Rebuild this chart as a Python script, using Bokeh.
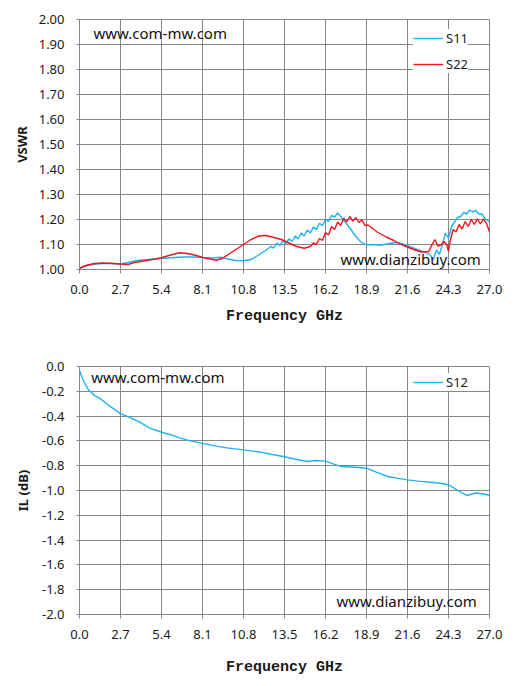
from bokeh.plotting import figure
from bokeh.models import FixedTicker, NumeralTickFormatter, Label, Legend, LegendItem, Range1d
from bokeh.layouts import column
from bokeh.embed import file_html
from bokeh.resources import INLINE

GRID = "#878787"
CYAN = "#1EB4F0"
RED = "#F0141E"
TXT = "#1a1a1a"

freq_ticks = [0.0, 2.7, 5.4, 8.1, 10.8, 13.5, 16.2, 18.9, 21.6, 24.3, 27.0]
vswr_ticks = [1.0, 1.1, 1.2, 1.3, 1.4, 1.5, 1.6, 1.7, 1.8, 1.9, 2.0]
il_ticks = [-2.0, -1.8, -1.6, -1.4, -1.2, -1.0, -0.8, -0.6, -0.4, -0.2, 0.0]

s11_f = [0.0, 0.3, 0.6, 1.0, 1.5, 2.0, 2.7, 3.2, 3.8, 4.5, 5.4, 6.0, 6.8, 7.5, 8.1, 8.8, 9.3, 9.8,
         10.3, 10.8, 11.3, 11.8, 12.2, 12.6, 12.8, 13.0, 13.2, 13.4, 13.6, 13.8, 14.0, 14.2, 14.4,
         14.6, 14.8, 15.0, 15.2, 15.4, 15.6, 15.8, 16.0, 16.2, 16.4, 16.6, 16.8, 17.0, 17.3, 17.6,
         17.9, 18.2, 18.5, 18.9, 19.3, 19.8, 20.3, 20.8, 21.3, 21.8, 22.3, 22.8, 23.1, 23.3, 23.5,
         23.7, 23.9, 24.1, 24.3, 24.5, 24.7, 24.9, 25.1, 25.3, 25.5, 25.7, 25.9, 26.1, 26.3, 26.5,
         26.7, 27.0]
s11_v = [1.005, 1.012, 1.017, 1.021, 1.024, 1.024, 1.022, 1.028, 1.036, 1.040, 1.044, 1.047, 1.050,
         1.050, 1.048, 1.046, 1.049, 1.042, 1.036, 1.035, 1.040, 1.058, 1.074, 1.092, 1.086, 1.106,
         1.096, 1.115, 1.104, 1.123, 1.112, 1.134, 1.122, 1.146, 1.134, 1.158, 1.146, 1.170, 1.159,
         1.185, 1.175, 1.200, 1.192, 1.216, 1.210, 1.226, 1.205, 1.182, 1.158, 1.132, 1.112, 1.098,
         1.100, 1.097, 1.103, 1.108, 1.102, 1.090, 1.079, 1.068, 1.058, 1.038, 1.078, 1.060, 1.100,
         1.145, 1.125, 1.172, 1.190, 1.208, 1.212, 1.228, 1.222, 1.238, 1.230, 1.236, 1.222, 1.222,
         1.204, 1.190]

s22_f = [0.0, 0.3, 0.6, 1.0, 1.5, 2.0, 2.7, 3.2, 3.6, 4.2, 5.0, 5.4, 6.0, 6.6, 7.2, 7.7, 8.1, 8.6,
         9.0, 9.4, 9.8, 10.3, 10.8, 11.3, 11.8, 12.3, 12.8, 13.3, 13.8, 14.3, 14.8, 15.2, 15.4, 15.6,
         15.8, 16.0, 16.2, 16.4, 16.6, 16.8, 17.0, 17.2, 17.4, 17.6, 17.8, 18.0, 18.2, 18.4, 18.6,
         18.8, 19.0, 19.6, 20.2, 20.7, 21.2, 21.6, 22.0, 22.5, 23.0, 23.2, 23.4, 23.6, 23.8, 24.0,
         24.2, 24.3, 24.4, 24.6, 24.8, 25.0, 25.2, 25.4, 25.6, 25.8, 26.0, 26.2, 26.4, 26.6, 26.8, 27.0]
s22_v = [1.005, 1.013, 1.019, 1.024, 1.026, 1.025, 1.022, 1.020, 1.028, 1.034, 1.042, 1.047, 1.058,
         1.067, 1.063, 1.056, 1.048, 1.042, 1.037, 1.044, 1.060, 1.080, 1.100, 1.120, 1.134, 1.136,
         1.128, 1.120, 1.106, 1.092, 1.085, 1.092, 1.106, 1.100, 1.124, 1.116, 1.148, 1.138, 1.172,
         1.160, 1.190, 1.176, 1.205, 1.190, 1.212, 1.194, 1.208, 1.188, 1.198, 1.176, 1.178, 1.150,
         1.130, 1.116, 1.100, 1.090, 1.080, 1.070, 1.072, 1.098, 1.120, 1.094, 1.098, 1.112, 1.098,
         1.072, 1.112, 1.160, 1.150, 1.180, 1.162, 1.192, 1.172, 1.200, 1.180, 1.203, 1.182, 1.202,
         1.185, 1.150]

s12_f = [0.0, 0.15, 0.3, 0.6, 1.0, 1.4, 2.0, 2.7, 3.3, 4.0, 4.6, 5.4, 6.0, 6.6, 7.3, 8.1, 9.0, 9.7,
         10.8, 11.9, 12.7, 13.5, 14.3, 15.0, 15.6, 16.2, 16.8, 17.2, 18.2, 18.9, 19.5, 20.3, 20.9,
         21.6, 22.3, 23.3, 24.0, 24.3, 24.6, 24.9, 25.2, 25.5, 25.8, 26.1, 26.6, 27.0]
s12_v = [-0.03, -0.08, -0.125, -0.19, -0.235, -0.262, -0.32, -0.38, -0.41, -0.45, -0.495, -0.53,
         -0.55, -0.575, -0.60, -0.620, -0.642, -0.656, -0.672, -0.691, -0.71, -0.728, -0.75, -0.766,
         -0.758, -0.763, -0.79, -0.806, -0.812, -0.82, -0.85, -0.887, -0.90, -0.914, -0.924, -0.935,
         -0.946, -0.955, -0.975, -1.0, -1.02, -1.04, -1.03, -1.02, -1.028, -1.038]


def style(p, xlabel, ylabel, yfmt, yticks, x_title_standoff, y_title_standoff):
    p.outline_line_color = GRID
    p.outline_line_width = 1
    p.xgrid.ticker = FixedTicker(ticks=freq_ticks)
    p.ygrid.ticker = FixedTicker(ticks=yticks)
    for g in (p.xgrid, p.ygrid):
        g.grid_line_color = GRID
        g.grid_line_width = 1
        g.grid_line_alpha = 1
    xa = p.xaxis[0]
    ya = p.yaxis[0]
    xa.ticker = FixedTicker(ticks=freq_ticks)
    xa.formatter = NumeralTickFormatter(format="0.0")
    ya.ticker = FixedTicker(ticks=yticks)
    ya.formatter = NumeralTickFormatter(format=yfmt)
    for a in (xa, ya):
        a.axis_line_color = GRID
        a.major_tick_line_color = GRID
        a.minor_tick_line_color = None
        a.major_tick_in = 0
        a.major_label_text_font = "Noto Sans"
        a.major_label_text_font_size = "13px"
        a.major_label_text_color = TXT
    xa.major_tick_out = 4
    ya.major_tick_out = 3
    xa.major_label_standoff = 11
    ya.major_label_standoff = 12
    xa.axis_label = xlabel
    xa.axis_label_text_font = "Liberation Mono"
    xa.axis_label_text_font_style = "bold"
    xa.axis_label_text_font_size = "15px"
    xa.axis_label_text_color = TXT
    xa.axis_label_standoff = x_title_standoff
    ya.axis_label = ylabel
    ya.axis_label_text_font = "Noto Sans"
    ya.axis_label_text_font_style = "bold"
    ya.axis_label_text_font_size = "13px"
    ya.axis_label_text_color = TXT
    ya.axis_label_standoff = y_title_standoff


def mark(p, x, y, text):
    p.add_layout(Label(x=x, y=y, text=text, text_baseline="middle", text_align="left",
                       text_font="Noto Sans", text_font_size="15px", text_color="#111111"))


def legend(p, items, loc):
    lg = Legend(items=items, location=loc, border_line_color=None,
                background_fill_color="white", background_fill_alpha=1.0,
                label_text_font="Noto Sans", label_text_font_size="13px", label_text_color=TXT,
                glyph_width=30, glyph_height=16, label_height=16, spacing=8,
                padding=7, margin=0, label_standoff=3)
    p.add_layout(lg)


p1 = figure(width=512, height=345, x_range=Range1d(0, 27), y_range=Range1d(1.0, 2.0),
            output_backend="svg", toolbar_location=None,
            min_border_left=79, min_border_right=23, min_border_top=19, min_border_bottom=76)
style(p1, "Frequency GHz", "VSWR", "0.00", vswr_ticks, 11, 5)
r11 = p1.line(s11_f, s11_v, line_color=CYAN, line_width=1.4)
r22 = p1.line(s22_f, s22_v, line_color=RED, line_width=1.4)
legend(p1, [LegendItem(label="S11", renderers=[r11]), LegendItem(label="S22", renderers=[r22])], (334, 196))
mark(p1, 0.92, 1.947, "www.com-mw.com")
mark(p1, 17.19, 1.043, "www.dianzibuy.com")

p2 = figure(width=512, height=333, x_range=Range1d(0, 27), y_range=Range1d(-2.0, 0.0),
            output_backend="svg", toolbar_location=None,
            min_border_left=79, min_border_right=23, min_border_top=21, min_border_bottom=64)
style(p2, "Frequency GHz", "IL (dB)", "0.0", il_ticks, 17, 7)
r12 = p2.line(s12_f, s12_v, line_color=CYAN, line_width=1.4)
legend(p2, [LegendItem(label="S12", renderers=[r12])], (334, 223))
mark(p2, 0.77, -0.086, "www.com-mw.com")
mark(p2, 16.92, -1.895, "www.dianzibuy.com")

page = column(p1, p2)
open("out.html", "w").write(file_html(page, INLINE))
